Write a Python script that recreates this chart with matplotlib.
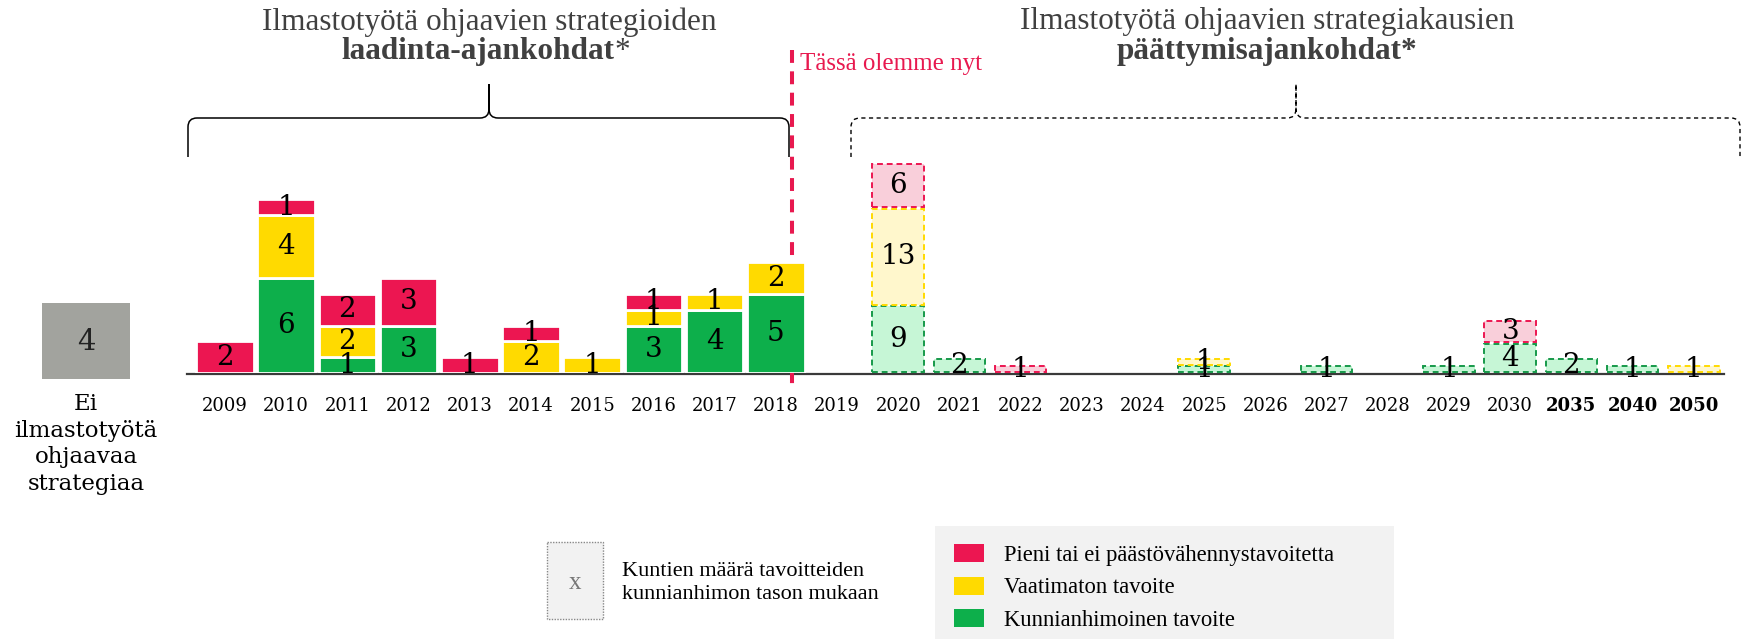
import numpy as np
import matplotlib.pyplot as plt
from matplotlib.path import Path
from matplotlib.patches import PathPatch, Rectangle

# laadinta-ajankohdat (strategy drafting years)
years_past = ['2009', '2010', '2011', '2012', '2013', '2014', '2015', '2016', '2017', '2018']
past_green = [0, 6, 1, 3, 0, 0, 0, 3, 4, 5]
past_yellow = [0, 4, 2, 0, 0, 2, 1, 1, 1, 2]
past_red = [2, 1, 2, 3, 1, 1, 0, 1, 0, 0]

# päättymisajankohdat (strategy end years)
years_end = ['2019', '2020', '2021', '2022', '2023', '2024', '2025', '2026', '2027',
             '2028', '2029', '2030', '2035', '2040', '2050']
end_green = [0, 9, 2, 0, 0, 0, 1, 0, 1, 0, 1, 4, 2, 1, 0]
end_yellow = [0, 13, 0, 0, 0, 0, 1, 0, 0, 0, 0, 0, 0, 0, 1]
end_red = [0, 6, 0, 1, 0, 0, 0, 0, 0, 0, 0, 3, 0, 0, 0]
bold_years = ['2035', '2040', '2050']

no_strategy = 4

RED, YELLOW, GREEN = '#EC1651', '#FFDA00', '#0DAF4B'
RED_L, YELLOW_L, GREEN_L = '#F9CFDA', '#FFF7CC', '#C6F6D6'
GREEN_D = '#17994A'
TXT = '#404040'
SERIF = 'DejaVu Serif'
NARROW = 'Liberation Serif'

W, H = 1750, 639
fig = plt.figure(figsize=(W / 100, H / 100), dpi=100)


def px_axes(x0, x1, ytop, ybot):
    return fig.add_axes([x0 / W, 1 - ybot / H, (x1 - x0) / W, (ybot - ytop) / H])


# overlay in pixel coordinates for the annotations
ov = fig.add_axes([0, 0, 1, 1], zorder=0)
ov.set_xlim(0, W)
ov.set_ylim(H, 0)
ov.axis('off')

step = 61.2
x_first = 225
base_y = 373
top_y = 100

ax1 = px_axes(x_first - step / 2, x_first + step * 9.5, top_y, base_y)
ax2 = px_axes(x_first + step * 9.5, x_first + step * 24.5, top_y, base_y)
for ax in (ax1, ax2):
    ax.set_facecolor('none')
    ax.set_zorder(2)
    for s in ax.spines.values():
        s.set_visible(False)
    ax.set_yticks([])
    ax.tick_params(axis='x', length=0, pad=17)

ax1.set_ylim(0, (base_y - top_y) / 15.8)
ax2.set_ylim(0, (base_y - top_y) / 7.5)

# left: solid stacked bars
x1 = np.arange(len(years_past))
g = np.array(past_green)
yv = np.array(past_yellow)
r = np.array(past_red)
cum = np.zeros(len(g))
for vals, col in zip([g, yv, r], [GREEN, YELLOW, RED]):
    m = vals > 0
    bc = ax1.bar(x1[m], vals[m], bottom=cum[m], width=0.94, color=col,
                 edgecolor='white', linewidth=2)
    ax1.bar_label(bc, labels=[str(v) for v in vals[m]], label_type='center',
                  fontsize=20, family=SERIF, color='black')
    cum = cum + vals
ax1.set_xlim(-0.5, 9.5)
ax1.set_xticks(x1, years_past, fontsize=13, family=SERIF)

# right: dashed light stacked bars
x2 = np.arange(len(years_end))
g = np.array(end_green)
yv = np.array(end_yellow)
r = np.array(end_red)
pad = 0.1
cum = np.zeros(len(g))
for vals, fill, edge in zip([g, yv, r], [GREEN_L, YELLOW_L, RED_L], [GREEN_D, YELLOW, RED]):
    m = vals > 0
    bc = ax2.bar(x2[m], vals[m] - 2 * pad, bottom=cum[m] + pad, width=0.84, color=fill,
                 edgecolor=edge, linewidth=1.4, linestyle=(0, (3, 2)))
    ax2.bar_label(bc, labels=[str(v) for v in vals[m]], label_type='center',
                  fontsize=20, family=SERIF, color='black')
    cum = cum + vals
ax2.set_xlim(-0.5, 14.5)
ax2.set_xticks(x2, years_end, fontsize=13, family=SERIF)
for t in ax2.get_xticklabels():
    if t.get_text() in bold_years:
        t.set_fontweight('bold')

# baseline
ov.plot([187, 1724], [base_y + 1, base_y + 1], color='#3a3a3a', lw=1.6, zorder=3)

# "now" line
ov.plot([792, 792], [50, 384], color='#E8194F', lw=2.9, dashes=(3.2, 2.1), zorder=3)
ov.text(800, 64, 'Tässä olemme nyt', color='#E8194F', fontsize=18, family=NARROW,
        ha='left', va='center')


def brace(x0, x1, xm, y_line, y_end, y_peak, **kw):
    rr = 9
    verts = [(x0, y_end), (x0, y_line + rr), (x0, y_line), (x0 + rr, y_line),
             (xm - rr, y_line), (xm, y_line), (xm, y_line - rr), (xm, y_peak),
             (xm, y_line - rr), (xm, y_line), (xm + rr, y_line),
             (x1 - rr, y_line), (x1, y_line), (x1, y_line + rr), (x1, y_end)]
    codes = [Path.MOVETO, Path.LINETO, Path.CURVE3, Path.CURVE3,
             Path.LINETO, Path.CURVE3, Path.CURVE3, Path.LINETO,
             Path.LINETO, Path.CURVE3, Path.CURVE3,
             Path.LINETO, Path.CURVE3, Path.CURVE3, Path.LINETO]
    ov.add_patch(PathPatch(Path(verts, codes), fill=False, **kw))


brace(188, 789, 489, 118, 157, 84, color='black', lw=1.1)
brace(851, 1740, 1296, 118, 157, 84, color='black', lw=1.0, linestyle=(0, (3, 2.5)))

# titles
ov.text(489, 22, 'Ilmastotyötä ohjaavien strategioiden', fontsize=22.5, family=NARROW,
        color=TXT, ha='center', va='center')
t = ov.text(478, 52, 'laadinta-ajankohdat', fontsize=22.5, family=NARROW, weight='bold',
            color=TXT, ha='center', va='center')
ov.annotate('*', xycoords=t, xy=(1, 0.5), fontsize=22.5, family=NARROW, color=TXT,
            ha='left', va='center')
ov.text(1267, 22, 'Ilmastotyötä ohjaavien strategiakausien', fontsize=22.5, family=NARROW,
        color=TXT, ha='center', va='center')
ov.text(1267, 52, 'päättymisajankohdat*', fontsize=22.5, family=NARROW, weight='bold',
        color=TXT, ha='center', va='center')

# no strategy box
ov.add_patch(Rectangle((42, 303), 88, 76, facecolor='#A2A39E', edgecolor='none'))
ov.text(86, 342, str(no_strategy), fontsize=21, family=SERIF, color='#222222',
        ha='center', va='center')
ov.text(86, 444, 'Ei\nilmastotyötä\nohjaavaa\nstrategiaa', fontsize=16.5, family=SERIF,
        color='black', ha='center', va='center', linespacing=1.28)

# explanation box
ov.add_patch(Rectangle((547, 542), 56, 77, facecolor='#F2F2F2', edgecolor='#888888',
                       lw=1, linestyle=(0, (1, 1))))
ov.text(575, 583, 'x', fontsize=18, family=NARROW, color='#777777', ha='center', va='center')
ov.text(622, 583, 'Kuntien määrä tavoitteiden\nkunnianhimon tason mukaan', fontsize=16,
        family=NARROW, color='black', ha='left', va='center', linespacing=1.32)

# legend
ov.add_patch(Rectangle((935, 526), 459, 113, facecolor='#F2F2F2', edgecolor='none'))
leg_items = [('Pieni tai ei päästövähennystavoitetta', RED),
             ('Vaatimaton tavoite', YELLOW),
             ('Kunnianhimoinen tavoite', GREEN)]
for i, (lab, col) in enumerate(leg_items):
    yy = 553 + i * 32.5
    ov.add_patch(Rectangle((954, yy - 9), 30, 18, facecolor=col, edgecolor='none'))
    ov.text(1004, yy + 2, lab, fontsize=16.3, family=NARROW, color='black',
            ha='left', va='center')

fig.savefig('out.png', dpi=100)
